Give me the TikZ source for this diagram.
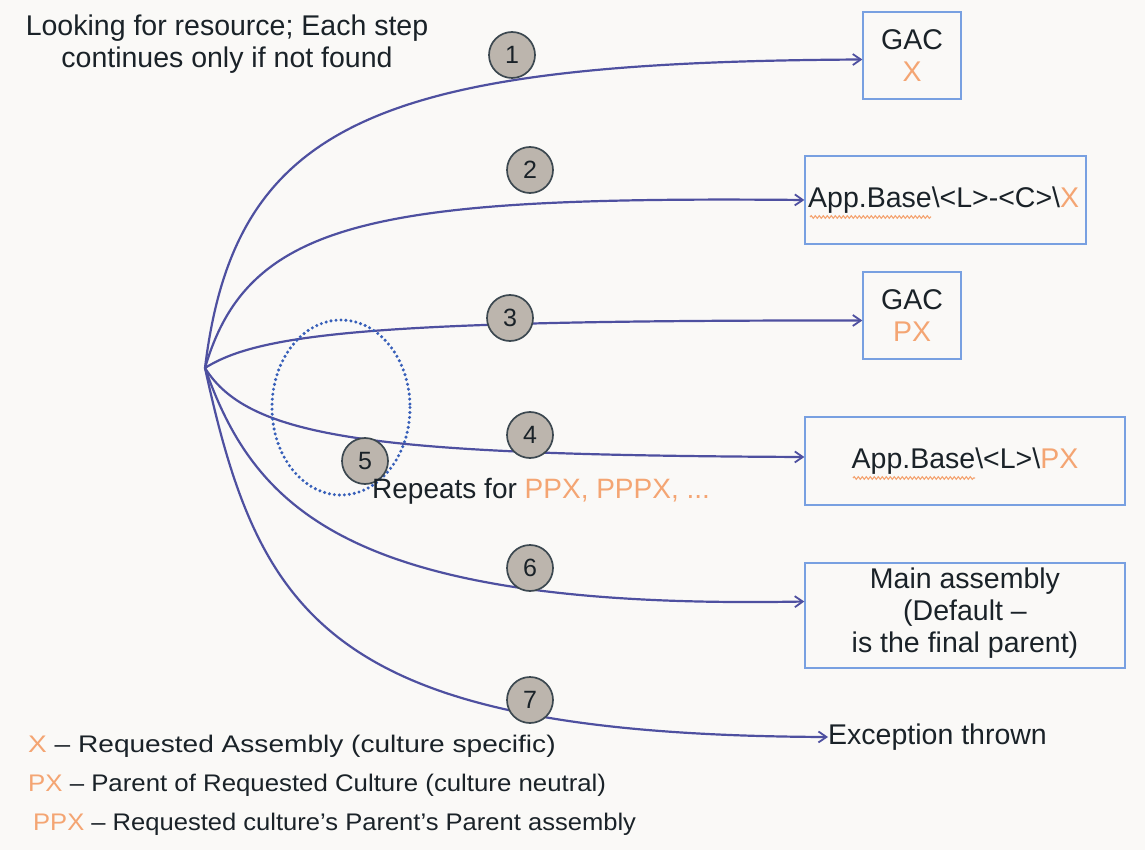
\documentclass[tikz,border=0pt]{standalone}
\usepackage{fontspec}
\setmainfont{Liberation Sans}
\usetikzlibrary{arrows.meta,calc,decorations.pathmorphing}
\definecolor{bg}{RGB}{250,249,247}
\definecolor{ln}{RGB}{78,80,160}
\definecolor{bx}{RGB}{120,160,225}
\definecolor{orng}{RGB}{244,165,115}
\definecolor{txt}{RGB}{26,34,40}
\definecolor{cfill}{RGB}{188,181,173}
\definecolor{cdraw}{RGB}{60,72,80}
\definecolor{dot}{RGB}{55,95,185}
\begin{document}
\begin{tikzpicture}[x=1pt,y=-1pt,
  big/.style={font=\fontsize{28.5}{32}\selectfont, text=txt, align=center},
  leg/.style={font=\fontsize{24}{28}\selectfont, text=txt, anchor=west, inner sep=0pt},
  boxnode/.style={draw=bx, line width=1.3pt, inner sep=0pt, align=center},
  conn/.style={draw=ln, line width=2.2pt, -{Straight Barb[length=8pt,width=11pt,line width=1.8pt]}},
  stepnum/.style={circle, fill=cfill, draw=cdraw, line width=1.7pt, minimum size=46pt, inner sep=0pt, font=\fontsize{25}{25}\selectfont, text=txt},
  squig/.style={draw=orng, line width=1.1pt, decorate, decoration={snake, amplitude=1.3pt, segment length=4pt}},
]
\fill[bg] (0,0) rectangle (1145,850);
\useasboundingbox (0,0) rectangle (1145,850);

% title
\node[big] (title) at (227,44) {Looking for resource; Each step\\continues only if not found};

% origin
\coordinate (o) at (205,368);

% boxes
\node[boxnode, minimum width=98pt, minimum height=87pt] (b1) at (912,55.5) {};
\node[big] (b1t) at (912,55.5) {GAC\\\textcolor{orng}{X}};
\node[boxnode, minimum width=281pt, minimum height=88pt] (b2) at (945.5,200) {};
\node[big, anchor=west, inner sep=0pt] (b2t) at (808,200) {App.Base\textbackslash{}<L>-<C>\textbackslash{}\textcolor{orng}{X}};
\node[boxnode, minimum width=98pt, minimum height=87pt] (b3) at (912,315.5) {};
\node[big] (b3t) at (912,315.5) {GAC\\\textcolor{orng}{PX}};
\node[boxnode, minimum width=320pt, minimum height=88pt] (b4) at (965,461) {};
\node[big] (b4t) at (965,461) {App.Base\textbackslash{}<L>\textbackslash{}\textcolor{orng}{PX}};
\node[boxnode, minimum width=320pt, minimum height=105pt] (b6) at (965,615.5) {};
\node[big] (b6t) at (965,613) {Main assembly\\(Default --\\is the final parent)};
\node[big, anchor=west, inner sep=0pt] (b7) at (828,737) {Exception thrown};

% squiggles under App.Base
\draw[squig] (810,217) -- (931,217);
\draw[squig] (853,478) -- (975,478);

% connectors
\draw[conn] (o) .. controls (235,120) and (380,62) .. ($(b1.west)+(0,4)$);
\draw[conn] (o) .. controls (248,220) and (375,196) .. (b2.west);
\draw[conn] (o) .. controls (260,333) and (380,320) .. ($(b3.west)+(0,5)$);
\draw[conn] (o) .. controls (250,440) and (380,455) .. ($(b4.west)+(0,-4)$);
\draw[conn] (o) .. controls (255,510) and (350,610) .. ($(b6.west)+(0,-14)$);
\draw[conn] (o) .. controls (260,620) and (330,735) .. (b7.west);

% dotted ellipse
\draw[dot, line width=3.4pt, dash pattern=on 0pt off 5pt, line cap=round] (341,407.5) ellipse [x radius=69, y radius=87.5];

% step numbers
\node[stepnum] (s1) at (512,55) {1};
\node[stepnum] (s2) at (530,170) {2};
\node[stepnum] (s3) at (510,318) {3};
\node[stepnum] (s4) at (530,435) {4};
\node[stepnum] (s5) at (365,461) {5};
\node[stepnum] (s6) at (530,568) {6};
\node[stepnum] (s7) at (530,700) {7};

\node[big, anchor=west, inner sep=0pt, font=\fontsize{28}{30}\selectfont] (rep) at (372,491) {Repeats for \textcolor{orng}{PPX, PPPX, ...}};

% legend
\node[leg] (l1) at (28,746) {\scalebox{1.17}[1]{\textcolor{orng}{X} -- Requested Assembly (culture specific)}};
\node[leg] (l2) at (28,785) {\scalebox{1.075}[1]{\textcolor{orng}{PX} -- Parent of Requested Culture (culture neutral)}};
\node[leg] (l3) at (33,824) {\scalebox{1.065}[1]{\textcolor{orng}{PPX} -- Requested culture's Parent's Parent assembly}};
\end{tikzpicture}
\end{document}
